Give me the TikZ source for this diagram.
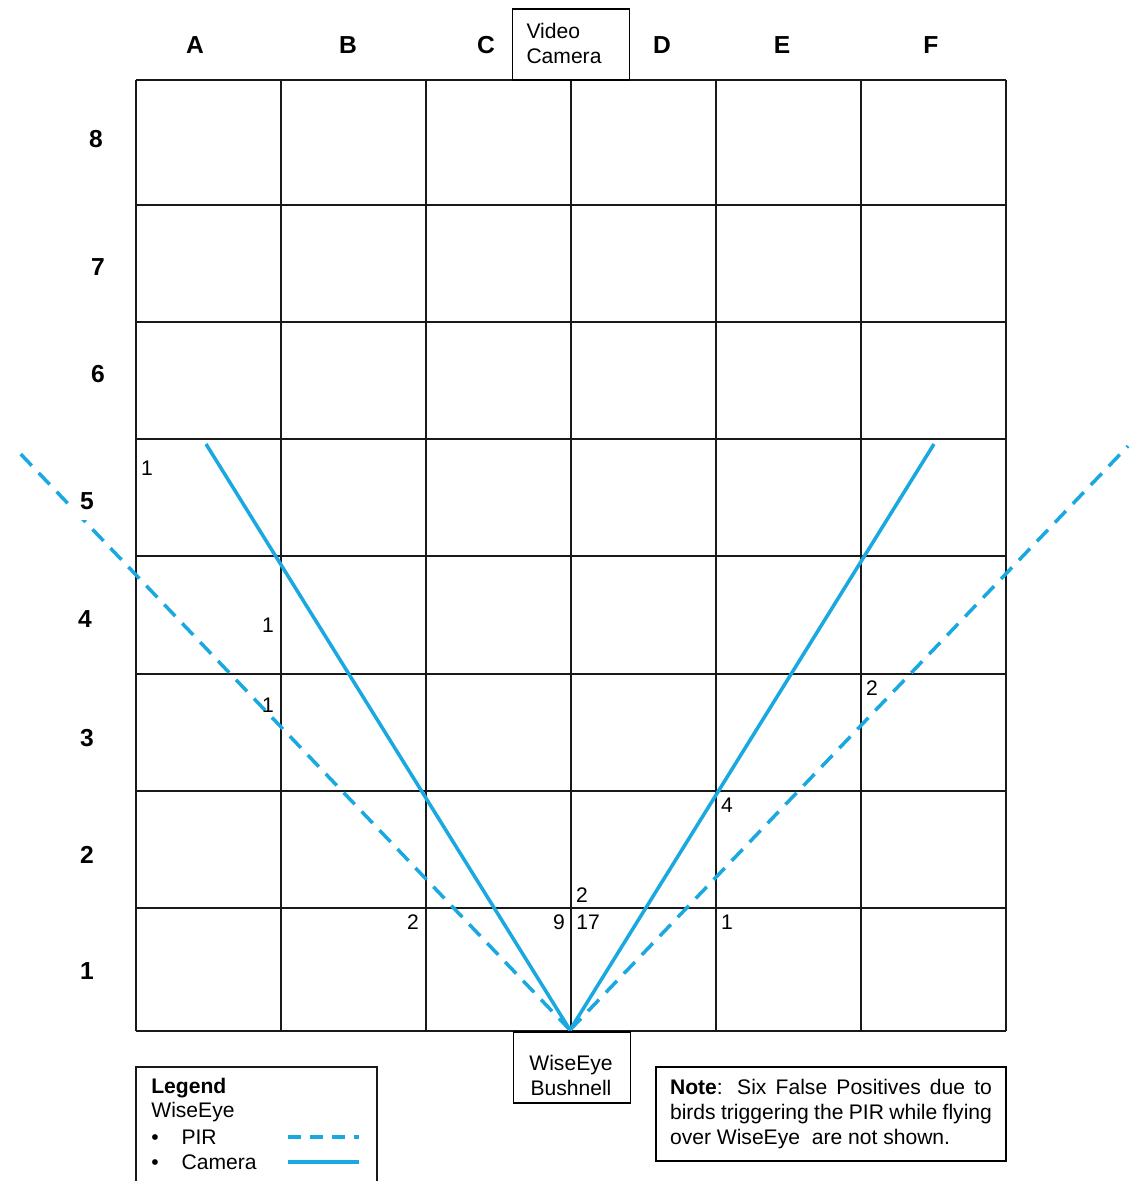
\documentclass[tikz,border=0pt]{standalone}
\usepackage{fontspec}
\setmainfont{Liberation Sans}
\usepackage{xcolor}
\definecolor{cview}{HTML}{1AA8E0}
\usetikzlibrary{positioning}

\begin{document}
\begin{tikzpicture}[x=0.02cm, y=-0.02cm,
  gridline/.style={line width=1.1pt, black!90},
  camline/.style={cview, line width=2pt},
  pirline/.style={cview, line width=2pt, dash pattern=on 0.32cm off 0.2cm},
  head/.style={font=\fontsize{14}{16}\selectfont\bfseries},
  hits/.style={font=\fontsize{12}{14}\selectfont, inner sep=1pt},
  devbox/.style={draw, line width=1.1pt, fill=white, inner sep=0pt,
    minimum width=2.34cm, minimum height=1.42cm},
  devtext/.style={align=left, inner sep=0pt, font=\fontsize{12}{14.2}\selectfont},
  legtext/.style={anchor=west, inner sep=0pt, font=\fontsize{12}{14}\selectfont}]
  \useasboundingbox (0,0) rectangle (1137,1181);

  % Rejilla
  \foreach \x in {136,281,426,571,716,861,1006}
    \draw[gridline] (\x,80) -- (\x,1031);
  \foreach \y in {80,205,322,439,556,674,791,908,1031}
    \draw[gridline] (136,\y) -- (1006,\y);

  % Column and row labels
  \node[head] (colA) at (195,45) {A};
  \node[head] (colB) at (348,45) {B};
  \node[head] (colC) at (486,45) {C};
  \node[head] (colD) at (662,45) {D};
  \node[head] (colE) at (782,45) {E};
  \node[head] (colF) at (931,45) {F};
  \node[head] (row8) at (96,139) {8};
  \node[head] (row7) at (98,267) {7};
  \node[head] (row6) at (98,374) {6};
  \node[head] (row4) at (85,619) {4};
  \node[head] (row3) at (87,738) {3};
  \node[head] (row2) at (87,855) {2};
  \node[head] (row1) at (87,971) {1};

  % Fields of view
  \coordinate (apex) at (570,1030);
  \coordinate (camL) at (206,444);
  \coordinate (camR) at (934,444);
  \coordinate (pirL) at (14,447);
  \coordinate (pirR) at (1128,446);
  \draw[camline] (apex) -- (camL);
  \draw[camline] (apex) -- (camR);
  \draw[pirline] (apex) -- (pirL);
  \draw[pirline] (apex) -- (pirR);
  \node[head, fill=white, inner sep=6pt] (row5) at (87,501) {5};

  % Detections
  \node[hits] (nA5) at (147,468) {1};
  \node[hits] (nA4) at (268,625) {1};
  \node[hits] (nA3) at (268,705) {1};
  \node[hits] (nF3) at (872,688) {2};
  \node[hits] (nE2) at (727,805) {4};
  \node[hits] (nD2) at (582,895) {2};
  \node[hits] (nB1) at (413,922) {2};
  \node[hits] (nC1) at (559,922) {9};
  \node[hits] (nD1) at (588,922) {17};
  \node[hits] (nE1) at (727,922) {1};

  % Devices
  \node[devbox] (video) at (571,44.5) {};
  \node[devtext] (videotxt) at (564,43) {Video\\Camera};
  \node[devbox] (wiseeye) at (572,1067.5) {};
  \node[devtext, align=center] (wiseeyetxt) at (571,1075) {WiseEye\\Bushnell};

  % Legend
  \draw[gridline] (136,1181) -- (136,1067) -- (377,1067) -- (377,1181);
  \node[legtext, font=\fontsize{12}{14}\selectfont\bfseries] (legtitle) at (151,1088) {Legend};
  \node[legtext] (legwise) at (151,1112) {WiseEye};
  \node[legtext] (legpir) at (151,1137) {\textbullet\hspace{13pt}PIR};
  \node[legtext] (legcam) at (151,1162) {\textbullet\hspace{13pt}Camera};
  \coordinate (lpA) at (288,1137);
  \coordinate (lpB) at (359,1137);
  \coordinate (lcA) at (288,1162);
  \coordinate (lcB) at (359,1162);
  \draw[pirline, dash pattern=on 0.26cm off 0.18cm] (lpA) -- (lpB);
  \draw[camline] (lcA) -- (lcB);

  % Note
  \node[draw, line width=1.1pt, text width=6.44cm, inner xsep=0.28cm, inner ysep=0pt,
    minimum height=1.88cm, align=justify, font=\fontsize{12}{14.2}\selectfont]
    (note) at (831,1114)
    {\textbf{Note}: Six False Positives due to birds triggering the PIR while flying over WiseEye~ are not shown.};
\end{tikzpicture}
\end{document}
